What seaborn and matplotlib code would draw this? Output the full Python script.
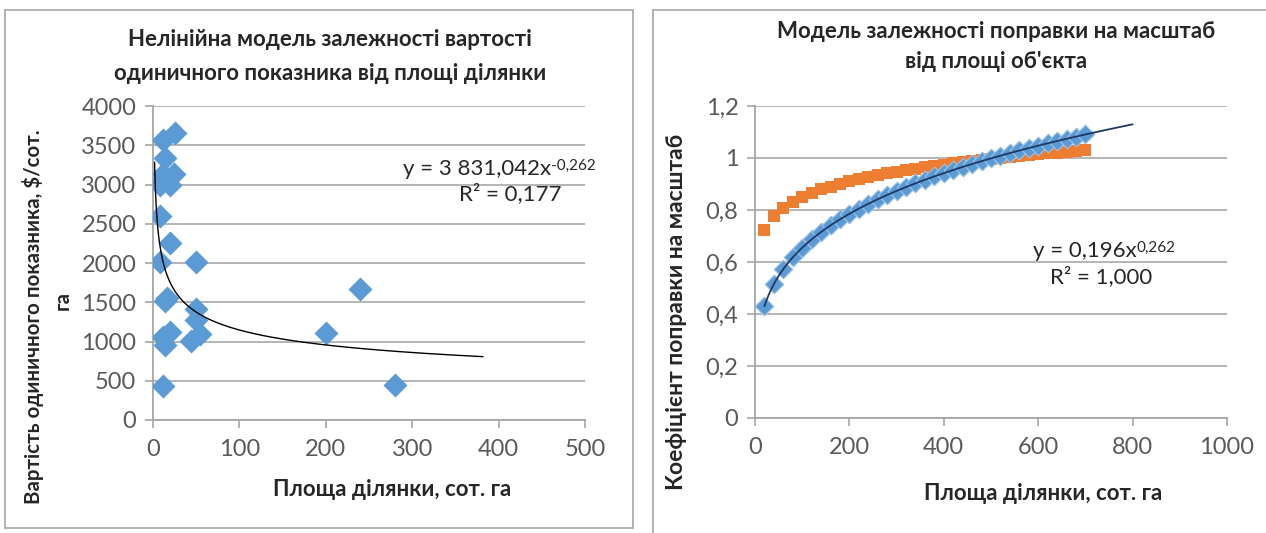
import numpy as np
import matplotlib
matplotlib.use("Agg")
import matplotlib.pyplot as plt
import seaborn as sns
from matplotlib.patches import Rectangle
from matplotlib.ticker import FuncFormatter, MultipleLocator

# ---- Left panel: unit price vs. plot area ----
area_left = [26, 12, 14, 24, 12, 10, 20, 8, 8, 20, 8, 50, 16, 14, 50, 50,
             54, 44, 20, 14, 12, 12, 200, 240, 280]
price_left = [3660, 3570, 3340, 3130, 3140, 3050, 2990, 2990, 2600, 2250,
              2010, 2010, 1550, 1520, 1410, 1270, 1100, 1010, 1120, 950,
              1060, 430, 1110, 1670, 440]
# power trendline y = a * x^b
trend_left_a = 3831.042
trend_left_b = -0.262
trend_left_range = (1.8, 382)

# ---- Right panel: scale correction vs. plot area ----
area_right = [20, 40, 60, 80, 100, 120, 140, 160, 180, 200, 220, 240, 260,
              280, 300, 320, 340, 360, 380, 400, 420, 440, 460, 480, 500,
              520, 540, 560, 580, 600, 620, 640, 660, 680, 700]
scale_power = [0.430, 0.515, 0.573, 0.618, 0.655, 0.687, 0.715, 0.741,
               0.764, 0.786, 0.805, 0.824, 0.841, 0.858, 0.873, 0.888,
               0.903, 0.916, 0.929, 0.942, 0.954, 0.966, 0.977, 0.988,
               0.999, 1.009, 1.019, 1.029, 1.038, 1.047, 1.056, 1.065,
               1.074, 1.082, 1.091]
scale_alt = [0.725, 0.776, 0.808, 0.831, 0.850, 0.865, 0.879, 0.890,
             0.901, 0.910, 0.919, 0.927, 0.934, 0.941, 0.947, 0.953,
             0.959, 0.965, 0.970, 0.975, 0.979, 0.984, 0.988, 0.992,
             0.996, 1.000, 1.004, 1.008, 1.011, 1.015, 1.018, 1.021,
             1.024, 1.027, 1.030]
trend_right_a = 0.196
trend_right_b = 0.262
trend_right_range = (20, 800)

BLUE = "#5B9BD5"
ORANGE = "#ED7D31"
GRID = "#B4B4B4"
TICK = "#595959"
TEXT = "#262626"

sns.set_theme(style="white")
plt.rcParams['font.family'] = ['Lato', 'DejaVu Sans']

W, H = 1266, 533
fig = plt.figure(figsize=(W / 100, H / 100), dpi=100)
fig.patch.set_facecolor("white")


def px_axes(x0, y0, x1, y1):
    return fig.add_axes([x0 / W, 1 - y1 / H, (x1 - x0) / W, (y1 - y0) / H])


def style_axes(ax):
    ax.set_facecolor("white")
    for s in ("top", "right"):
        ax.spines[s].set_visible(False)
    for s in ("left", "bottom"):
        ax.spines[s].set_color("#A6A6A6")
        ax.spines[s].set_linewidth(1.3)
    ax.yaxis.grid(True, color=GRID, linewidth=1.4)
    ax.xaxis.grid(False)
    ax.set_axisbelow(True)
    ax.tick_params(axis="both", which="major", direction="out", length=6,
                   width=1.2, color="#A6A6A6", labelsize=17,
                   labelcolor=TICK, left=True, bottom=True)
    ax.tick_params(axis="x", pad=8)
    ax.tick_params(axis="y", pad=6)
    ax.set_xlabel("")
    ax.set_ylabel("")


# panel frames
fig.add_artist(Rectangle((5 / W, 1 - 528 / H), 628 / W, 518 / H,
                         transform=fig.transFigure, fill=False,
                         ec="#A6A6A6", lw=1.2))
fig.add_artist(Rectangle((653 / W, 1 - 540 / H), 640 / W, 530 / H,
                         transform=fig.transFigure, fill=False,
                         ec="#A6A6A6", lw=1.2))

# ---------- left chart ----------
ax1 = px_axes(153, 106, 585, 420)
sns.scatterplot(x=area_left, y=price_left, marker="D", s=150, color=BLUE,
                linewidth=0, ax=ax1, zorder=3)
xs = np.linspace(*trend_left_range, 400)
sns.lineplot(x=xs, y=trend_left_a * xs ** trend_left_b, color="black",
             linewidth=1.0, estimator=None, sort=False, ax=ax1, zorder=4)
ax1.set_xlim(0, 500)
ax1.set_ylim(0, 4000)
ax1.xaxis.set_major_locator(MultipleLocator(100))
ax1.yaxis.set_major_locator(MultipleLocator(500))
style_axes(ax1)

t1 = fig.text(403 / W, 1 - 175 / H, "y = 3 831,042x", fontsize=16,
              color=TEXT, ha="left", va="baseline")
ax1.annotate("-0,262", xy=(1.0, 1.0), xycoords=t1, ha="left", va="top",
             fontsize=11, color=TEXT)
fig.text(510 / W, 1 - 200 / H, "R² = 0,177", fontsize=16, color=TEXT,
         ha="center", va="baseline")

fig.text(330 / W, 1 - 40 / H, "Нелінійна модель залежності вартості",
         fontsize=16, fontweight="bold", color=TEXT, ha="center",
         va="center")
fig.text(330 / W, 1 - 73 / H, "одиничного показника від площі ділянки",
         fontsize=16, fontweight="bold", color=TEXT, ha="center",
         va="center")
fig.text(392 / W, 1 - 490 / H, "Площа ділянки, сот. га", fontsize=16,
         fontweight="bold", color=TEXT, ha="center", va="center")
fig.text(33 / W, 1 - 317 / H, "Вартість одиничного показника, $/сот.",
         fontsize=14.8, fontweight="bold", color=TEXT, ha="center",
         va="center", rotation=90)
fig.text(63 / W, 1 - 300 / H, "га", fontsize=14.8, fontweight="bold",
         color=TEXT, ha="center", va="center", rotation=90)

# ---------- right chart ----------
ax2 = px_axes(755, 106, 1227, 418)
sns.scatterplot(x=area_right, y=scale_alt, marker="s", s=80, color=ORANGE,
                linewidth=0, ax=ax2, zorder=3)
sns.scatterplot(x=area_right, y=scale_power, marker="D", s=90, color=BLUE,
                edgecolor="#9DC3E6", linewidth=0.8, ax=ax2, zorder=4)
xr = np.linspace(*trend_right_range, 400)
sns.lineplot(x=xr, y=trend_right_a * xr ** trend_right_b, color="#1F3864",
             linewidth=1.3, estimator=None, sort=False, ax=ax2, zorder=5)
ax2.set_xlim(0, 1000)
ax2.set_ylim(0, 1.2)
ax2.xaxis.set_major_locator(MultipleLocator(200))
ax2.yaxis.set_major_locator(MultipleLocator(0.2))
ax2.yaxis.set_major_formatter(FuncFormatter(
    lambda v, _: ("%g" % round(v, 1)).replace(".", ",")))
style_axes(ax2)

t2 = fig.text(1033 / W, 1 - 257 / H, "y = 0,196x", fontsize=16, color=TEXT,
              ha="left", va="baseline")
ax2.annotate("0,262", xy=(1.0, 1.0), xycoords=t2, ha="left", va="top",
             fontsize=11, color=TEXT)
fig.text(1101 / W, 1 - 283 / H, "R² = 1,000", fontsize=16, color=TEXT,
         ha="center", va="baseline")

fig.text(996 / W, 1 - 31 / H, "Модель залежності поправки на масштаб",
         fontsize=16, fontweight="bold", color=TEXT, ha="center",
         va="center")
fig.text(996 / W, 1 - 61 / H, "від площі об'єкта", fontsize=16,
         fontweight="bold", color=TEXT, ha="center", va="center")
fig.text(1043 / W, 1 - 493 / H, "Площа ділянки, сот. га", fontsize=16,
         fontweight="bold", color=TEXT, ha="center", va="center")
fig.text(677 / W, 1 - 312 / H, "Коефіцієнт поправки на масштаб",
         fontsize=16.5, fontweight="bold", color=TEXT, ha="center",
         va="center", rotation=90)

fig.savefig("out.png", dpi=100, facecolor="white")
